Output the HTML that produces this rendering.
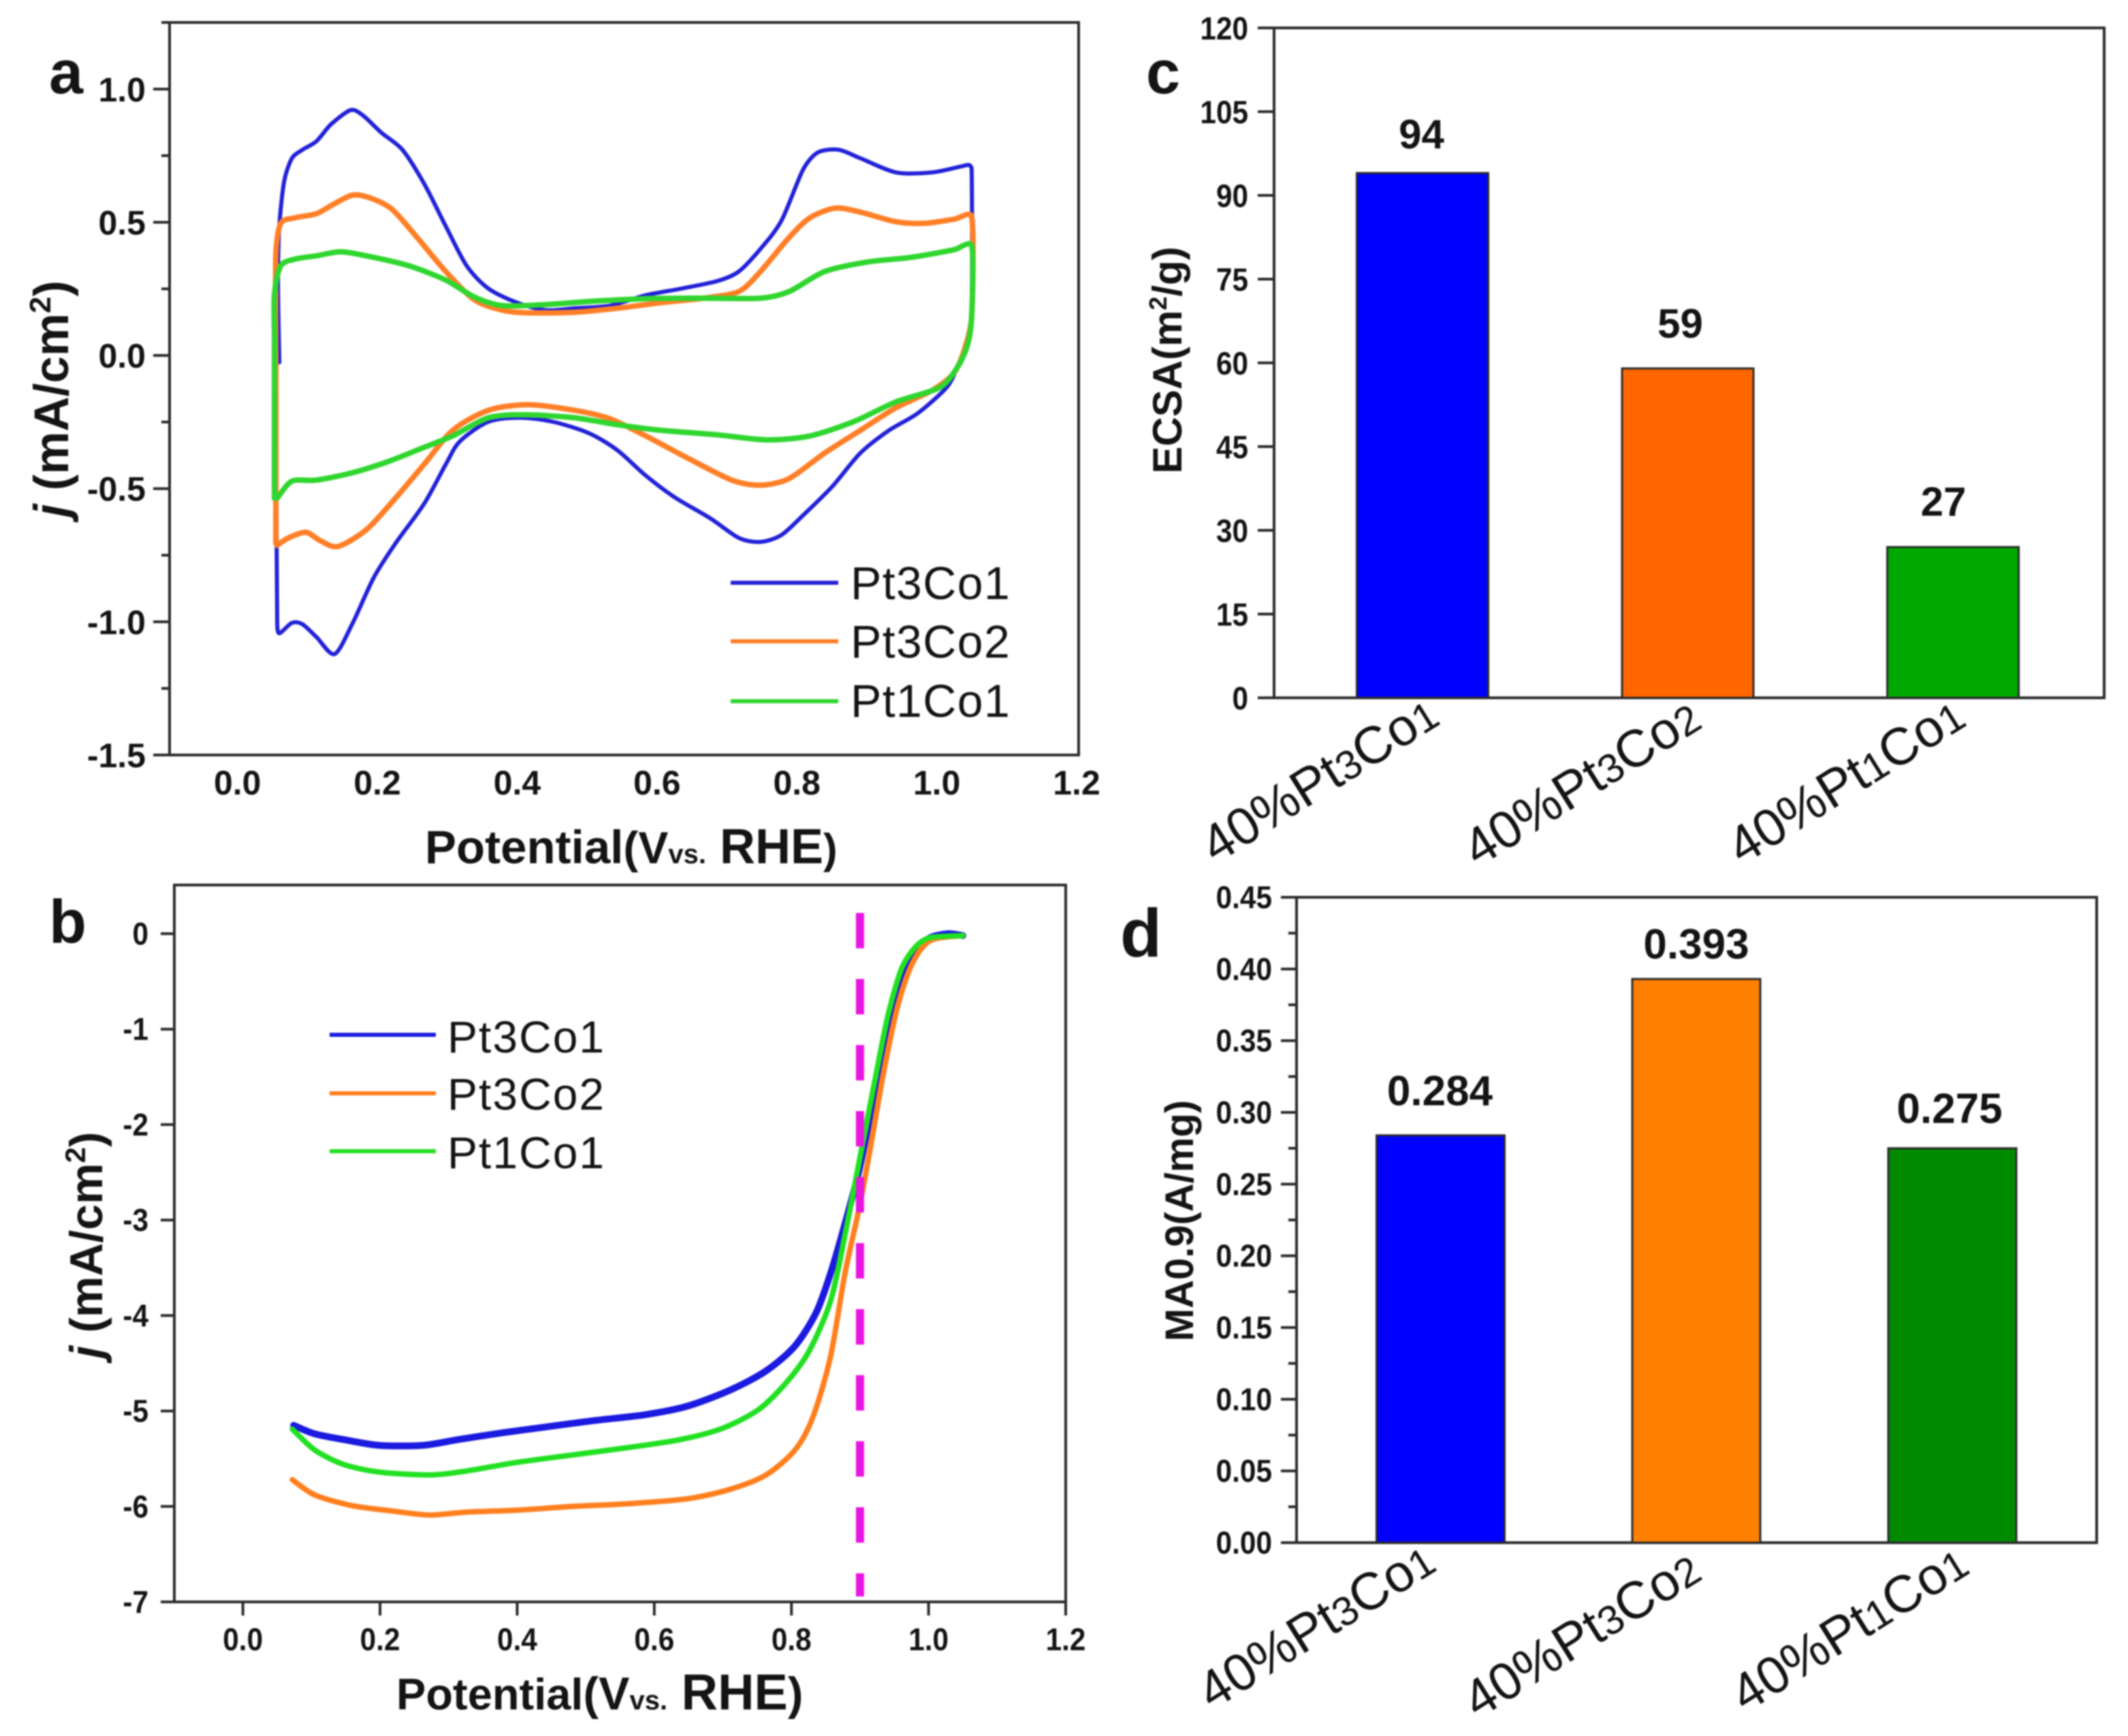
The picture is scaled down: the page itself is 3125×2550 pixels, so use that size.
<!DOCTYPE html>
<html lang="en">
<head>
<meta charset="utf-8">
<title>Pt-Co catalyst electrochemistry charts</title>
<style>
html,body{margin:0;padding:0;background:#fff;width:3125px;height:2550px;overflow:hidden}
svg{display:block;font-family:"Liberation Sans",sans-serif;filter:blur(1px)}
text{fill:#141414}
</style>
</head>
<body>
<svg id="fig" xmlns="http://www.w3.org/2000/svg" width="3125" height="2550" viewBox="0 0 3125 2550">
  <rect width="3125" height="2550" fill="#fff"/>

  <g id="panel-a">
    <text x="72" y="137" font-size="90" font-weight="700">a</text>
    <text transform="translate(100,586) rotate(-90)" text-anchor="middle" font-size="71" font-weight="700"><tspan font-style="italic">j</tspan> (mA/cm<tspan font-size="44" dy="-26">2</tspan><tspan dy="26">)</tspan></text>
    <text x="624" y="1268" font-size="69" font-weight="700">Potential<tspan font-size="66">(V</tspan><tspan font-size="40">vs.</tspan><tspan font-size="72"> RHE</tspan><tspan font-size="62">)</tspan></text>
    <g id="lines-a"></g>
    <g>
      <line x1="1073" x2="1231" y1="856" y2="856" stroke="#2222d8" stroke-width="6"/>
      <text x="1249" y="880" font-size="68" letter-spacing="1.4">Pt3Co1</text>
      <line x1="1073" x2="1231" y1="942" y2="942" stroke="#ff7f27" stroke-width="6"/>
      <text x="1249" y="966" font-size="68" letter-spacing="1.4">Pt3Co2</text>
      <line x1="1073" x2="1231" y1="1030" y2="1030" stroke="#2fd62f" stroke-width="6"/>
      <text x="1249" y="1053" font-size="68" letter-spacing="1.4">Pt1Co1</text>
    </g>
  </g>

  <g id="panel-b">
    <text x="72" y="1385" font-size="90" font-weight="700">b</text>
    <text transform="translate(150,1829) rotate(-90)" text-anchor="middle" font-size="68" font-weight="700"><tspan font-style="italic">j</tspan> (mA/cm<tspan font-size="42" dy="-25">2</tspan><tspan dy="25">)</tspan></text>
    <text x="582" y="2511" font-size="65" font-weight="700">Potential<tspan font-size="68">(V</tspan><tspan font-size="40">vs.</tspan><tspan font-size="74"> RHE</tspan><tspan font-size="68">)</tspan></text>
    <g id="lines-b"></g>
    <g>
      <line x1="484" x2="640" y1="1520" y2="1520" stroke="#1a1ae0" stroke-width="6"/>
      <text x="657" y="1546" font-size="66" letter-spacing="2">Pt3Co1</text>
      <line x1="484" x2="640" y1="1606" y2="1606" stroke="#ff7f1e" stroke-width="6"/>
      <text x="657" y="1630" font-size="66" letter-spacing="2">Pt3Co2</text>
      <line x1="484" x2="640" y1="1691" y2="1691" stroke="#22e022" stroke-width="6"/>
      <text x="657" y="1716" font-size="66" letter-spacing="2">Pt1Co1</text>
    </g>
  </g>

  <g id="panel-c">
    <text x="1683" y="137" font-size="90" font-weight="700">c</text>
    <text transform="translate(1735,529) rotate(-90)" text-anchor="middle" font-size="60" font-weight="700">ECSA(m<tspan font-size="36" dy="-22">2</tspan><tspan dy="22">/g)</tspan></text>
  </g>

  <g id="panel-d">
    <text x="1645" y="1405" font-size="100" font-weight="700">d</text>
    <text transform="translate(1752,1793) rotate(-90)" text-anchor="middle" font-size="58" font-weight="700">MA0.9(A/mg)</text>
  </g>
</svg>
<script>
// ---- Panel a: cyclic voltammetry ----
const cvPotentialPt3Co1 = [.057,.055,.057,.064,.075,.09,.11,.131,.159,.177,.203,.233,.264,.295,.325,.356,.397,.438,.479,.53,.581,.632,.683,.714,.745,.775,.806,.827,.857,.888,.939,.99,1.031,1.043,1.047,1.047,1.041,1.026,1.011,.97,.929,.888,.847,.806,.775,.745,.714,.673,.622,.581,.54,.499,.448,.402,.356,.315,.295,.264,.223,.192,.162,.136,.11,.09,.075,.057,.054,.053,.053];
const cvCurrentPt3Co1 = [-.026,.272,.485,.655,.74,.772,.804,.868,.921,.9,.836,.772,.645,.485,.336,.251,.198,.17,.177,.187,.226,.251,.279,.315,.4,.506,.698,.762,.772,.74,.687,.687,.709,.715,.70,.166,.06,-.047,-.121,-.217,-.281,-.366,-.494,-.6,-.674,-.7,-.685,-.611,-.532,-.451,-.355,-.291,-.249,-.234,-.249,-.323,-.409,-.557,-.706,-.834,-1.004,-1.121,-1.057,-1.009,-1.004,-1.043,-1.004,-.579,.272];
const cvPotentialPt3Co2 = [.052,.052,.052,.059,.08,.11,.136,.162,.187,.218,.254,.295,.336,.376,.412,.479,.54,.602,.663,.714,.745,.786,.816,.852,.888,.939,.98,1.021,1.047,1.047,1.036,1.021,.99,.939,.888,.837,.786,.745,.704,.642,.581,.53,.479,.412,.356,.305,.264,.223,.182,.141,.116,.095,.07,.054];
const cvCurrentPt3Co2 = [-.706,-.153,.379,.496,.517,.532,.57,.602,.591,.549,.443,.315,.209,.17,.16,.162,.177,.198,.215,.24,.315,.443,.517,.553,.538,.502,.496,.511,.521,.145,.017,-.068,-.132,-.196,-.281,-.366,-.462,-.487,-.468,-.387,-.302,-.238,-.206,-.185,-.206,-.281,-.409,-.536,-.653,-.717,-.696,-.664,-.685,-.713];
const cvPotentialPt1Co1 = [.05,.05,.05,.059,.08,.11,.146,.192,.243,.295,.336,.376,.438,.509,.581,.663,.745,.786,.837,.898,.96,1.021,1.047,1.047,1.041,1.026,1.001,.939,.878,.816,.755,.683,.602,.54,.479,.407,.356,.305,.264,.213,.162,.11,.075,.054];
const cvCurrentPt1Co1 = [-.536,.06,.23,.336,.362,.374,.389,.368,.336,.283,.219,.187,.191,.204,.213,.215,.215,.24,.315,.351,.368,.396,.411,.145,.038,-.047,-.121,-.174,-.249,-.302,-.317,-.298,-.281,-.26,-.234,-.223,-.234,-.302,-.345,-.398,-.44,-.468,-.472,-.536];
const cvXTickLabels = ['0.0','0.2','0.4','0.6','0.8','1.0','1.2'];
const cvYTickLabels = ['1.0','0.5','0.0','-0.5','-1.0','-1.5'];

// ---- Panel b: linear sweep voltammetry ----
const lsvPotentialPt3Co1 = [.074,.105,.147,.199,.262,.314,.377,.439,.513,.586,.648,.711,.763,.805,.836,.857,.878,.899,.92,.941,.961,.982,1.003,1.029,1.05];
const lsvCurrentPt3Co1 = [-5.15,-5.24,-5.3,-5.36,-5.36,-5.3,-5.23,-5.17,-5.1,-5.04,-4.95,-4.78,-4.58,-4.32,-3.97,-3.56,-3.04,-2.47,-1.72,-.96,-.44,-.16,-.04,0,-.02];
const lsvPotentialPt3Co2 = [.072,.105,.158,.22,.272,.325,.398,.481,.565,.648,.711,.763,.805,.831,.857,.878,.899,.914,.935,.956,.977,1.003,1.05];
const lsvCurrentPt3Co2 = [-5.72,-5.88,-5.99,-6.05,-6.09,-6.06,-6.04,-6,-5.97,-5.92,-5.82,-5.67,-5.41,-5.07,-4.43,-3.56,-2.87,-2.29,-1.43,-.73,-.3,-.07,-.02];
const lsvPotentialPt1Co1 = [.072,.105,.147,.199,.272,.325,.398,.481,.565,.638,.7,.753,.794,.826,.857,.878,.899,.92,.941,.961,.982,1.003,1.05];
const lsvCurrentPt1Co1 = [-5.19,-5.41,-5.56,-5.64,-5.67,-5.63,-5.54,-5.46,-5.38,-5.3,-5.18,-4.98,-4.69,-4.37,-3.85,-3.16,-2.38,-1.6,-.85,-.36,-.13,-.04,-.02];
const lsvReferencePotential = [0.9];
const lsvXTickLabels = ['0.0','0.2','0.4','0.6','0.8','1.0','1.2'];
const lsvYTickLabels = ['0','-1','-2','-3','-4','-5','-6','-7'];

// ---- Panel c: ECSA bars ----
const ecsaValues = [94, 59, 27];
const ecsaPrinted = ['94', '59', '27'];
const ecsaYTickLabels = ['0','15','30','45','60','75','90','105','120'];

// ---- Panel d: mass activity bars ----
const maValues = [0.284, 0.393, 0.275];
const maPrinted = ['0.284', '0.393', '0.275'];
const maYTickLabels = ['0.00','0.05','0.10','0.15','0.20','0.25','0.30','0.35','0.40','0.45'];

const catalystNames = [['40%Pt','3','Co','1'],['40%Pt','3','Co','2'],['40%Pt','1','Co','1']];

const NS = 'http://www.w3.org/2000/svg';
function make(tag, attrs, parent) {
  const el = document.createElementNS(NS, tag);
  for (const k in attrs) el.setAttribute(k, attrs[k]);
  parent.appendChild(el);
  return el;
}
function limitHandle(hx, hy, seg) {
  const len = Math.hypot(hx, hy), cap = seg * 0.36;
  if (len > cap && len > 0) { const f = cap / len; return [hx * f, hy * f]; }
  return [hx, hy];
}
function smoothPath(px, py) {
  let d = 'M' + px[0].toFixed(1) + ' ' + py[0].toFixed(1);
  const n = px.length, t = 0.14;
  for (let i = 0; i < n - 1; i++) {
    const a = Math.max(i - 1, 0), b = Math.min(i + 2, n - 1);
    const seg = Math.hypot(px[i + 1] - px[i], py[i + 1] - py[i]);
    const h1 = limitHandle((px[i + 1] - px[a]) * t, (py[i + 1] - py[a]) * t, seg);
    const h2 = limitHandle((px[b] - px[i]) * t, (py[b] - py[i]) * t, seg);
    d += 'C' + (px[i] + h1[0]).toFixed(1) + ' ' + (py[i] + h1[1]).toFixed(1) + ' ' + (px[i + 1] - h2[0]).toFixed(1) + ' ' + (py[i + 1] - h2[1]).toFixed(1) + ' ' + px[i + 1].toFixed(1) + ' ' + py[i + 1].toFixed(1);
  }
  return d;
}
function frame(parent, l, t, r, b) {
  const f = make('rect', {x:l, y:t, width:r - l, height:b - t, fill:'none', stroke:'#2b2b2b', 'stroke-width':4}, parent);
  
  
}
function tick(parent, x1, y1, x2, y2, w) {
  const el = make('line', {x1, y1, x2, y2, stroke:'#2b2b2b', 'stroke-width':w || 4}, parent);
  
  
}
function tickLabel(parent, x, y, str, anchor, size, sx) {
  const el = make('text', {transform:'translate(' + x + ',' + y + ') scale(' + sx + ',1)', 'text-anchor':anchor, 'font-size':size, 'font-weight':700}, parent);
  el.textContent = str;
  
  
}
function line(parent, xs, ys, sx, sy, color, w, name) {
  const el = make('path', {d:smoothPath(xs.map(sx), ys.map(sy)), fill:'none', stroke:color, 'stroke-width':w, 'stroke-linejoin':'round', 'stroke-linecap':'round'}, parent);
  
  
}

// Panel a
(function () {
  const g = document.getElementById('panel-a'), lines = document.getElementById('lines-a');
  const L = 249, R = 1584, T = 33, B = 1109;
  const sx = v => L + (Number(v) + 0.1) / 1.3 * (R - L);
  const sy = v => B - (Number(v) + 1.5) / 2.75 * (B - T);
  frame(g, L, T, R, B);
  cvXTickLabels.forEach(s => tickLabel(g, sx(s) - 3, 1167, s, 'middle', 50, 1));
  cvYTickLabels.forEach(s => {
    tick(g, L - 24, sy(s), L, sy(s));
    tickLabel(g, 214, sy(s) + 18, s, 'end', 50, 1);
    if (Number(s) > -1.5) tick(g, L - 12, sy(Number(s) - 0.25), L, sy(Number(s) - 0.25));
  });
  tick(g, L - 12, sy(1.25), L, sy(1.25));
  line(lines, cvPotentialPt3Co1, cvCurrentPt3Co1, sx, sy, '#2222d8', 6, 'cv-line-pt3co1');
  line(lines, cvPotentialPt3Co2, cvCurrentPt3Co2, sx, sy, '#ff7f27', 8, 'cv-line-pt3co2');
  line(lines, cvPotentialPt1Co1, cvCurrentPt1Co1, sx, sy, '#2fd62f', 8, 'cv-line-pt1co1');
})();

// Panel b
(function () {
  const g = document.getElementById('panel-b'), lines = document.getElementById('lines-b');
  const L = 256, R = 1565, T = 1300, B = 2353;
  const sx = v => L + (Number(v) + 0.1) / 1.3 * (R - L);
  const sy = v => B - (Number(v) + 7) / 7.51 * (B - T);
  frame(g, L, T, R, B);
  lsvXTickLabels.forEach(s => {
    tick(g, sx(s), B, sx(s), B + 20);
    tickLabel(g, sx(s), 2424, s, 'middle', 46, 0.92);
  });
  lsvYTickLabels.forEach(s => {
    tick(g, L - 20, sy(s), L, sy(s));
    tickLabel(g, 218, sy(s) + 16, s, 'end', 46, 0.92);
  });
  line(lines, lsvPotentialPt3Co1, lsvCurrentPt3Co1, sx, sy, '#1a1ae0', 10, 'lsv-line-pt3co1');
  line(lines, lsvPotentialPt3Co2, lsvCurrentPt3Co2, sx, sy, '#ff7f1e', 8, 'lsv-line-pt3co2');
  line(lines, lsvPotentialPt1Co1, lsvCurrentPt1Co1, sx, sy, '#22e022', 8, 'lsv-line-pt1co1');
  const ref = make('line', {x1:sx(lsvReferencePotential[0]), x2:sx(lsvReferencePotential[0]), y1:1341, y2:2345, stroke:'#e815e0', 'stroke-width':12, 'stroke-dasharray':'52 45'}, lines);
  
  
})();

function drawCategory(parent, name, x, y, size) {
  const el = make('text', {transform:'translate(' + x + ',' + y + ') rotate(-32)', 'font-size':size}, parent);
  name.forEach((part, i) => {
    const ts = make('tspan', i % 2 ? {'font-size':size * 0.78} : {}, el);
    ts.textContent = part;
  });
  
  
}
function drawBars(parent, values, printed, sy, base, centers, width, colors, liftN, nudge, size, names) {
  values.forEach((v, i) => {
    const top = sy(v);
    const bar = make('rect', {x:centers[i] - width / 2, y:top, width:width, height:base - top, fill:colors[i], stroke:'#2b2b2b', 'stroke-width':3}, parent);
    
    
    const t = make('text', {x:centers[i] + nudge[i], y:top - liftN[i], 'text-anchor':'middle', 'font-size':size, 'font-weight':700}, parent);
    t.textContent = printed[i];
    
    
  });
}

// Panel c
(function () {
  const g = document.getElementById('panel-c');
  const L = 1871, R = 3090, T = 41, B = 1025;
  const sy = v => B - Number(v) / 120 * (B - T);
  frame(g, L, T, R, B);
  ecsaYTickLabels.forEach(s => {
    tick(g, L - 24, sy(s), L, sy(s));
    tickLabel(g, 1833, sy(s) + 17, s, 'end', 47, 0.9);
  });
  drawBars(g, ecsaValues, ecsaPrinted, sy, B, [2089, 2478.5, 2868], 193, ['#0000ff', '#ff6600', '#00a800'], [36, 45, 46], [-1.5, -11, -14], 60, ['bar-ecsa-pt3co1', 'bar-ecsa-pt3co2', 'bar-ecsa-pt1co1']);
  drawCategory(g, catalystNames[0], 1785, 1270, 77);
  drawCategory(g, catalystNames[1], 2170, 1275, 77);
  drawCategory(g, catalystNames[2], 2558, 1272, 77);
})();

// Panel d
(function () {
  const g = document.getElementById('panel-d');
  const L = 1904, R = 3079, T = 1318, B = 2266;
  const sy = v => B - Number(v) / 0.45 * (B - T);
  frame(g, L, T, R, B);
  maYTickLabels.forEach(s => {
    tick(g, L - 23, sy(s), L, sy(s));
    tickLabel(g, 1868, sy(s) + 16, s, 'end', 46, 0.92);
    if (Number(s) < 0.45) tick(g, L - 12, sy(Number(s) + 0.025), L, sy(Number(s) + 0.025));
  });
  drawBars(g, maValues, maPrinted, sy, B, [2115.5, 2491, 2867], 188, ['#0000ff', '#ff7f00', '#008a00'], [44, 30, 37], [-1, 0, -4], 62, ['bar-ma-pt3co1', 'bar-ma-pt3co2', 'bar-ma-pt1co1']);
  drawCategory(g, catalystNames[0], 1780, 2513, 77);
  drawCategory(g, catalystNames[1], 2170, 2526, 77);
  drawCategory(g, catalystNames[2], 2563, 2517, 77);
})();
</script>
</body>
</html>
